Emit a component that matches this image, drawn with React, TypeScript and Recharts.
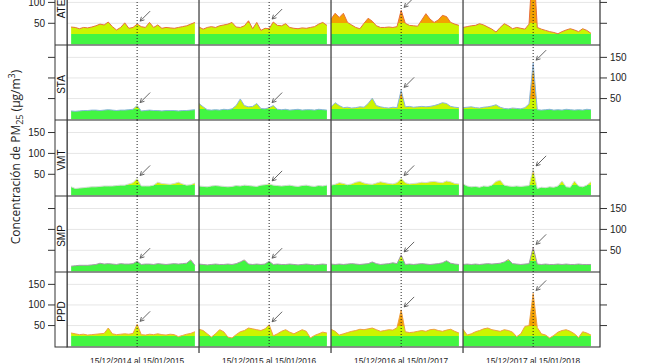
import React from 'react';
import {
  ComposedChart,
  Area,
  XAxis,
  YAxis,
  CartesianGrid,
  ReferenceLine,
  ReferenceDot,
  ReferenceArea,
} from 'recharts';

// ---------------- data ----------------
const STATIONS = ['ATE', 'STA', 'VMT', 'SMP', 'PPD'];
const PERIOD_LABELS = [
  '15/12/2014 al 15/01/2015',
  '15/12/2015 al 15/01/2016',
  '15/12/2016 al 15/01/2017',
  '15/12/2017 al 15/01/2018',
];
const DAYS_PER_PERIOD = 32; // day 0 = 15/12 ... day 31 = 15/01
const JAN1_DAY = 17; // 01/01
const Y_TICKS = [50, 100, 150];
const Y_DOMAIN: [number, number] = [-2, 180];
const X_DOMAIN: [number, number] = [0, 129.2];
const LIMITS = [25, 50, 125]; // green / yellow / orange / red classes

// daily PM2.5 (µg/m3), one array per station and period
const ATE_P1 = [null, 41, 40, 37, 40, 39, 41, 44, 48, 46, 53, 42, 34, 40, 51, 38, 40, 48, 42, 40, 52, 40, 46, 38, 40, 39, 38, 40, 42, 44, 48, 52];
const ATE_P2 = [41, 36, 40, 42, 40, 44, 46, 48, 52, 41, 40, 44, 56, 37, 52, 33, 38, 37, 53, 45, 44, 49, 40, 38, 37, 39, 38, 40, 42, 48, 52, 45];
const ATE_P3 = [60, 74, 64, 74, 52, 46, 40, 37, 50, 62, 55, 44, 40, 40, 41, 40, 42, 81, 50, 45, 44, 43, 58, 73, 60, 52, 58, 69, 66, 52, 48, 45];
const ATE_P4 = [40, 42, 44, 45, 49, 46, 41, 36, 29, 40, 49, 44, 37, 40, 38, 36, 48, 210, 40, 36, 33, 30, 28, 25, 30, 34, 37, 34, 30, 37, 33, 26];

const STA_P1 = [null, 20, 19, 20, 21, 21, 22, 22, 21, 22, 23, 22, 21, 22, 22, 23, 24, 33, 20, 21, 22, 21, 21, 20, 21, 21, 21, 20, 21, 21, 22, 23];
const STA_P2 = [38, 30, 23, 22, 23, 22, 24, 23, 25, 33, 49, 33, 30, 31, 38, 26, 25, 28, 33, 24, 23, 24, 22, 23, 24, 22, 23, 23, 22, 24, 23, 22];
const STA_P3 = [30, 40, 33, 28, 29, 27, 28, 30, 29, 38, 51, 33, 30, 28, 27, 29, 28, 70, 30, 31, 29, 30, 31, 30, 31, 33, 36, 40, 38, 31, 29, 28];
const STA_P4 = [28, 29, 30, 28, 27, 29, 30, 32, 35, 29, 26, 25, 27, 26, 25, 28, 37, 136, 23, 22, 23, 24, 22, 23, 22, 24, 23, 22, 23, 22, 24, 23];

const VMT_P1 = [null, 20, 16, 17, 18, 19, 20, 20, 21, 22, 22, 22, 23, 24, 24, 27, 30, 40, 22, 22, 22, 24, 31, 28, 27, 26, 28, 31, 27, 24, 25, 29];
const VMT_P2 = [22, 21, 20, 22, 23, 22, 21, 20, 21, 23, 22, 24, 23, 22, 21, 24, 25, 27, 24, 23, 22, 23, 24, 22, 21, 23, 24, 22, 21, 23, 22, 24];
const VMT_P3 = [24, 26, 30, 28, 25, 27, 31, 33, 29, 27, 26, 29, 32, 30, 28, 27, 30, 40, 30, 27, 28, 29, 31, 30, 32, 33, 31, 30, 34, 32, 28, 27];
const VMT_P4 = [27, 22, 20, 21, 19, 22, 21, 24, 33, 36, 24, 22, 21, 22, 21, 22, 23, 63, 16, 19, 18, 20, 19, 22, 34, 20, 19, 34, 22, 20, 24, 32];

const SMP_P1 = [null, 12, 13, 14, 14, 14, 15, 16, 19, 17, 18, 17, 16, 18, 17, 17, 18, 24, 16, 17, 17, 16, 18, 17, 16, 17, 18, 17, 18, 19, 27, 14];
const SMP_P2 = [17, 16, 15, 16, 17, 16, 16, 17, 16, 18, 22, 27, 17, 16, 17, 16, 17, 24, 16, 17, 16, 16, 17, 16, 15, 16, 17, 16, 15, 16, 17, 16];
const SMP_P3 = [17, 16, 17, 16, 17, 18, 17, 16, 17, 18, 22, 18, 16, 17, 18, 20, 18, 39, 16, 17, 16, 17, 18, 17, 16, 17, 18, 20, 25, 19, 17, 16];
const SMP_P4 = [16, 17, 16, 17, 16, 17, 18, 17, 18, 19, 22, 28, 18, 17, 16, 17, 18, 57, 17, 16, 17, 16, 16, 17, 16, 17, 16, 16, 17, 16, 16, 16];

const PPD_P1 = [null, 32, 30, 28, 29, 27, 28, 29, 30, 31, 44, 30, 28, 29, 30, 29, 31, 53, 28, 27, 29, 28, 30, 28, 27, 29, 28, 23, 26, 29, 31, 35];
const PPD_P2 = [41, 38, 30, 22, 30, 40, 35, 22, 20, 28, 35, 38, 44, 42, 40, 38, 42, 52, 25, 30, 36, 40, 34, 30, 35, 40, 36, 20, 26, 30, 34, 32];
const PPD_P3 = [41, 36, 27, 30, 33, 36, 38, 41, 40, 42, 44, 40, 36, 38, 40, 39, 45, 88, 35, 33, 34, 36, 38, 36, 40, 41, 38, 36, 39, 41, 36, 32];
const PPD_P4 = [41, 27, 30, 35, 38, 42, 44, 40, 38, 36, 40, 38, 34, 23, 30, 48, 50, 128, 45, 30, 27, 20, 26, 34, 38, 40, 36, 30, 21, 35, 32, 27];

const SERIES: Record<string, (number | null)[][]> = {
  ATE: [ATE_P1, ATE_P2, ATE_P3, ATE_P4],
  STA: [STA_P1, STA_P2, STA_P3, STA_P4],
  VMT: [VMT_P1, VMT_P2, VMT_P3, VMT_P4],
  SMP: [SMP_P1, SMP_P2, SMP_P3, SMP_P4],
  PPD: [PPD_P1, PPD_P2, PPD_P3, PPD_P4],
};

// ---------------- styles ----------------
const LINE_COLORS: Record<string, string> = {
  ATE: '#e8703c',
  STA: '#8ab4dc',
  VMT: '#d4dad4',
  SMP: '#a59aa8',
  PPD: '#f0a040',
};
const CLASS_COLORS = ['#42f542', '#ccf500', '#f3a200', '#ff2200'];
const FRAME = '#333333';
const TICK_FONT = "'Liberation Sans', Arial, sans-serif";

// layout of the 5 rows (first row is cut by the top of the picture)
const ROW_TOPS = [-31, 45, 120, 196, 272];
const ROW_HEIGHTS = [76, 75, 76, 76, 75];
const X_AXIS_HEIGHT = 18;
const LEFT_W = 67;
const RIGHT_W = 45;

const dividerXs = [1, 2, 3].map((p) => p * DAYS_PER_PERIOD);
const jan1Xs = [0, 1, 2, 3].map((p) => p * DAYS_PER_PERIOD + JAN1_DAY);

function buildRows(station: string) {
  const rows: { x: number; v: number | null }[] = [];
  SERIES[station].forEach((arr, p) => {
    arr.forEach((v, d) => rows.push({ x: p * DAYS_PER_PERIOD + d, v }));
    if (p < 3) rows.push({ x: p * DAYS_PER_PERIOD + DAYS_PER_PERIOD - 0.5, v: null });
  });
  return rows;
}

function peakNear(station: string, p: number) {
  const arr = SERIES[station][p];
  const vals = [arr[JAN1_DAY - 1], arr[JAN1_DAY], arr[JAN1_DAY + 1]].filter((v) => v != null) as number[];
  return Math.max(...vals);
}

const off = (v: number) => (Y_DOMAIN[1] - v) / (Y_DOMAIN[1] - Y_DOMAIN[0]);

const Arrow = (props: any) => {
  const { cx, cy } = props;
  if (cx == null || cy == null) return <g />;
  const tx = cx + 3;
  const ty = cy - 3;
  const sx = cx + 13;
  const sy = cy - 13;
  const ang = Math.atan2(sy - ty, sx - tx);
  const h = 4.5;
  const a1 = ang + 0.5;
  const a2 = ang - 0.5;
  return (
    <g stroke="#555" strokeWidth={0.9} fill="none">
      <line x1={sx} y1={sy} x2={tx} y2={ty} />
      <polyline
        points={`${tx + h * Math.cos(a1)},${ty + h * Math.sin(a1)} ${tx},${ty} ${tx + h * Math.cos(a2)},${ty + h * Math.sin(a2)}`}
      />
    </g>
  );
};

const StripLabel = ({ viewBox, name }: any) => {
  if (!viewBox) return null;
  const { x, y, width, height } = viewBox;
  const right = x + width;
  const left = right - 12;
  return (
    <g>
      <rect x={left} y={y} width={12} height={height} fill="#fff" stroke={FRAME} strokeWidth={1} />
      <text
        transform={`translate(${left + 9.6}, ${y + height / 2 + 2}) rotate(-90)`}
        textAnchor="middle"
        fontSize={10}
        fontFamily={TICK_FONT}
        fill="#111"
      >
        {name}
      </text>
    </g>
  );
};

const makeLeftTick = (showText: boolean) => (props: any) => {
  const { x, y, payload } = props;
  return (
    <g>
      <line x1={x - 12} x2={x - 19} y1={y} y2={y} stroke={FRAME} strokeWidth={1} />
      {showText && (
        <text x={x - 22} y={y} dy="0.35em" textAnchor="end" fontSize={10} fontFamily={TICK_FONT} fill="#222">
          {payload.value}
        </text>
      )}
    </g>
  );
};

const makeRightTick = (showText: boolean) => (props: any) => {
  const { x, y, payload } = props;
  return (
    <g>
      <line x1={x} x2={x + 7} y1={y} y2={y} stroke={FRAME} strokeWidth={1} />
      {showText && (
        <text x={x + 10} y={y} dy="0.35em" textAnchor="start" fontSize={10} fontFamily={TICK_FONT} fill="#222">
          {payload.value}
        </text>
      )}
    </g>
  );
};

const XTick = (props: any) => {
  const { x, y, payload } = props;
  const idx = jan1Xs.indexOf(payload.value);
  if (idx >= 0) {
    return (
      <text x={x} y={y + 17} textAnchor="middle" fontSize={8.3} fontFamily={TICK_FONT} fill="#222">
        {PERIOD_LABELS[idx]}
      </text>
    );
  }
  return <line x1={x} x2={x} y1={y} y2={y + 6} stroke="#444" strokeWidth={1.3} />;
};

function StationRow({ station, index }: { station: string; index: number }) {
  const data = buildRows(station);
  const isLast = index === STATIONS.length - 1;
  const plotH = ROW_HEIGHTS[index];
  const h = plotH + (isLast ? X_AXIS_HEIGHT : 0);
  const leftText = index % 2 === 0;
  const gid = `grad-${station}`;
  return (
    <div style={{ position: 'absolute', left: 0, top: ROW_TOPS[index] }}>
      <ComposedChart width={645} height={h} data={data} margin={{ top: 0, right: 0, bottom: 0, left: 0 }}>
        <defs>
          <linearGradient id={gid} gradientUnits="userSpaceOnUse" x1={0} y1={0} x2={0} y2={plotH}>
            <stop offset={0} stopColor={CLASS_COLORS[3]} />
            <stop offset={off(LIMITS[2])} stopColor={CLASS_COLORS[3]} />
            <stop offset={off(LIMITS[2])} stopColor={CLASS_COLORS[2]} />
            <stop offset={off(LIMITS[1])} stopColor={CLASS_COLORS[2]} />
            <stop offset={off(LIMITS[1])} stopColor={CLASS_COLORS[1]} />
            <stop offset={off(LIMITS[0])} stopColor={CLASS_COLORS[1]} />
            <stop offset={off(LIMITS[0])} stopColor={CLASS_COLORS[0]} />
            <stop offset={1} stopColor={CLASS_COLORS[0]} />
          </linearGradient>
        </defs>
        <XAxis
          type="number"
          dataKey="x"
          domain={X_DOMAIN}
          allowDataOverflow
          hide={!isLast}
          height={X_AXIS_HEIGHT}
          ticks={[...jan1Xs, ...dividerXs].sort((a, b) => a - b)}
          interval={0}
          tickSize={0}
          tickMargin={0}
          axisLine={false}
          tickLine={false}
          tick={<XTick />}
        />
        <YAxis
          yAxisId="L"
          orientation="left"
          width={LEFT_W}
          type="number"
          domain={Y_DOMAIN}
          allowDataOverflow
          ticks={Y_TICKS}
          interval={0}
          tickSize={0}
          tickMargin={0}
          axisLine={false}
          tickLine={false}
          tick={makeLeftTick(leftText)}
          label={{ content: (p: any) => <StripLabel viewBox={p.viewBox} name={station} /> }}
        />
        <YAxis
          yAxisId="R"
          orientation="right"
          width={RIGHT_W}
          type="number"
          domain={Y_DOMAIN}
          allowDataOverflow
          ticks={Y_TICKS}
          interval={0}
          tickSize={0}
          tickMargin={0}
          axisLine={false}
          tickLine={false}
          tick={makeRightTick(!leftText)}
        />
        <CartesianGrid yAxisId="L" vertical={false} stroke="#e6e6e6" strokeWidth={1} />
        <Area
          yAxisId="L"
          type="linear"
          dataKey="v"
          stroke={LINE_COLORS[station]}
          strokeWidth={1}
          fill={`url(#${gid})`}
          fillOpacity={1}
          connectNulls={false}
          dot={false}
          activeDot={false}
          isAnimationActive={false}
        />
        {jan1Xs.map((x) => (
          <ReferenceLine key={`j${x}`} yAxisId="L" x={x} stroke="#222" strokeWidth={1} strokeDasharray="1 2" />
        ))}
        {dividerXs.map((x) => (
          <ReferenceLine key={`d${x}`} yAxisId="L" x={x} stroke="#444" strokeWidth={1.3} />
        ))}
        <ReferenceArea
          yAxisId="L"
          x1={X_DOMAIN[0]}
          x2={X_DOMAIN[1]}
          y1={Y_DOMAIN[0]}
          y2={Y_DOMAIN[1]}
          fill="none"
          fillOpacity={0}
          stroke={FRAME}
          strokeWidth={1.2}
        />
        {jan1Xs.map((x, p) => (
          <ReferenceDot
            key={`a${x}`}
            yAxisId="L"
            x={x}
            y={peakNear(station, p)}
            r={0}
            shape={(sp: any) => <Arrow {...sp} />}
          />
        ))}
      </ComposedChart>
    </div>
  );
}

export default function App() {
  return (
    <div
      style={{
        position: 'absolute',
        left: 0,
        top: 0,
        width: 645,
        height: 363,
        overflow: 'hidden',
        background: '#fff',
      }}
    >
      {STATIONS.map((s, i) => (
        <StationRow key={s} station={s} index={i} />
      ))}
      <svg width={40} height={363} style={{ position: 'absolute', left: 0, top: 0 }}>
        <text
          transform="translate(20, 157) rotate(-90)"
          textAnchor="middle"
          fontSize={12}
          fontFamily="'Open Sans', sans-serif"
          fill="#222"
        >
          Concentración de PM
          <tspan fontSize={9} dy={3}>25</tspan>
          <tspan dy={-3}> (μg/m</tspan>
          <tspan fontSize={9} dy={-5}>3</tspan>
          <tspan dy={5}>)</tspan>
        </text>
      </svg>
    </div>
  );
}
